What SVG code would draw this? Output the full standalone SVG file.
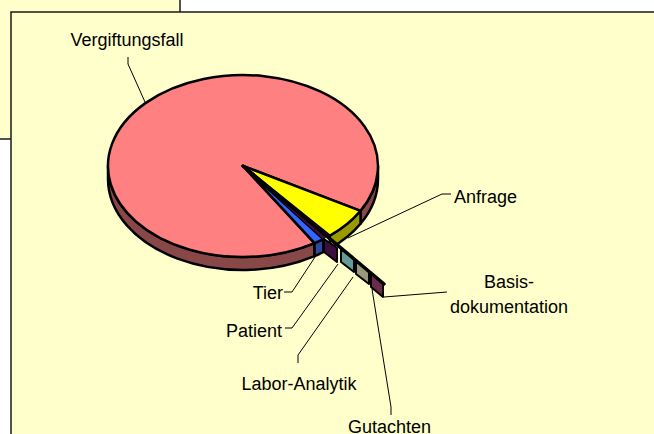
<svg xmlns="http://www.w3.org/2000/svg" width="654" height="434" viewBox="0 0 654 434">
<style>
.frame{fill:#FFFFCC;stroke:#1a1a1a;stroke-width:1.5}
.pie{stroke:#000;stroke-width:2.5;stroke-linejoin:round}
.box{stroke:#000;stroke-width:2;stroke-linejoin:round}
.lead{fill:none;stroke:#000;stroke-width:1}
text{font-family:"Liberation Sans",Arial,sans-serif;font-size:18px;fill:#000}
</style>
<rect width="654" height="434" fill="#fff"/>
<rect class="frame" x="-2" y="-2" width="182" height="141"/>
<rect class="frame" x="11" y="12" width="660" height="440"/>
<g id="pie-sides">
<path class="pie" fill="#884848" d="M314.5,243.2 A135,91 0 0 1 108,166 L108,179 A135,91 0 0 0 314.5,256.2 Z"/>
<path class="pie" fill="#884848" d="M378,166 A135,91 0 0 1 360.5,210.8 L360.5,223.8 A135,91 0 0 0 378,179 Z"/>
<path class="pie" fill="#999900" d="M360.5,210.8 A135,91 0 0 1 329.8,235.7 L329.8,248.7 A135,91 0 0 0 360.5,223.8 Z"/>
<path class="pie" fill="#2a4aa0" d="M323.3,239.2 A135,91 0 0 1 314.5,243.2 L314.5,256.2 A135,91 0 0 0 323.3,252.2 Z"/>
</g>
<g id="vergiftungsfall">
<path class="pie" fill="#FF8080" d="M243,166 L314.5,243.2 A135,91 0 1 1 360.5,210.8 Z"/>
</g>
<g id="anfrage">
<path class="pie" fill="#FFFF00" d="M243,166 L360.5,210.8 A135,91 0 0 1 329.8,235.7 Z"/>
</g>
<g id="tier">
<path class="pie" fill="#3366FF" d="M243,166 L323.3,239.2 A135,91 0 0 1 314.5,243.2 Z"/>
</g>
<g id="fan">
<path fill="#3d0d3d" d="M243,166 L329.8,235.7 L323.3,239.2 Z"/>
<polygon id="patient" class="box" fill="#3d0d3d" points="324,239 337,248 337,262 324,252"/>
<polygon id="labor-analytik" class="box" fill="#669999" points="341,249 354,259 354,272 341,262"/>
<polygon id="gutachten" class="box" fill="#99997a" points="356,261 369,271 369,284 356,274"/>
<polygon id="basisdokumentation" class="box" fill="#6b2b4b" points="371,273 383,283 383,297 371,287"/>
<line x1="243" y1="166" x2="384" y2="284" stroke="#000" stroke-width="3.5" stroke-linecap="round"/>
</g>
<g id="connectors">
<polyline class="lead" points="128,57 128,64 145,102"/>
<polyline class="lead" points="348,238 442,194 451,194"/>
<polyline class="lead" points="384,297 447,292"/>
<polyline class="lead" points="317,254 292,292 284,292"/>
<polyline class="lead" points="338,264 292,328 285,328"/>
<polyline class="lead" points="353,277 298,355 298,363"/>
<polyline class="lead" points="372,289 391,407 391,415"/>
</g>
<g id="labels">
<text x="127" y="46" text-anchor="middle">Vergiftungsfall</text>
<text x="454" y="203">Anfrage</text>
<text x="509" y="288" text-anchor="middle">Basis-</text>
<text x="509" y="313" text-anchor="middle">dokumentation</text>
<text x="283" y="299" text-anchor="end">Tier</text>
<text x="282" y="337" text-anchor="end">Patient</text>
<text x="299" y="390" text-anchor="middle">Labor-Analytik</text>
<text x="348" y="433">Gutachten</text>
</g>
</svg>
